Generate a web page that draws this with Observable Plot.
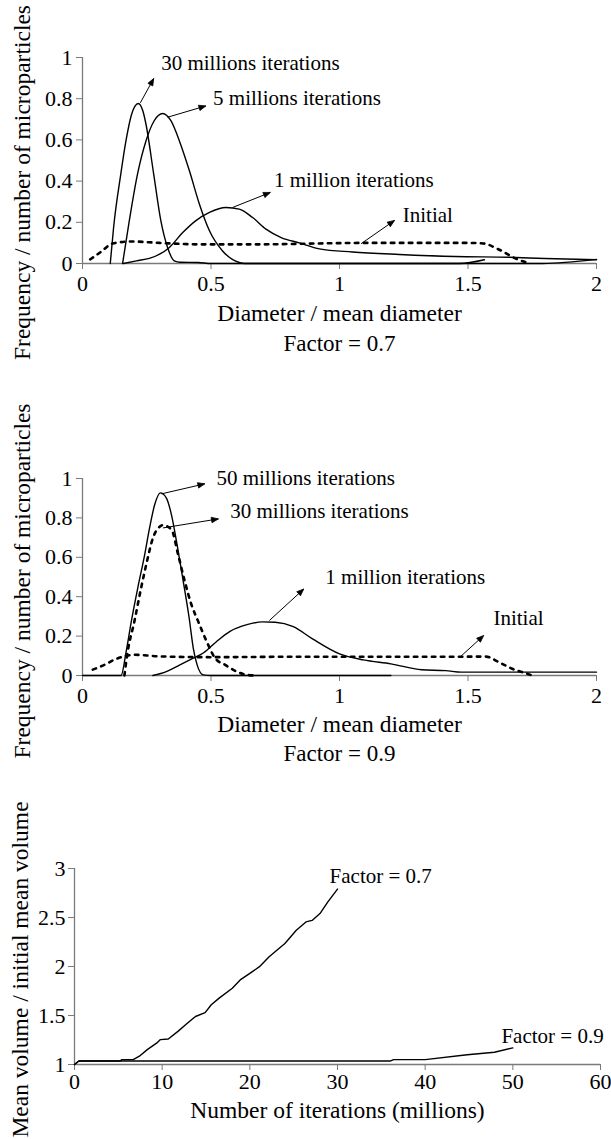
<!DOCTYPE html>
<html><head><meta charset="utf-8">
<script src="https://cdn.jsdelivr.net/npm/d3@7"></script>
<script src="https://cdn.jsdelivr.net/npm/@observablehq/plot@0.6"></script>
<style>
body{margin:0;background:#fff;}
#chart svg{display:block;overflow:visible;}
</style></head><body><div id="chart"></div><script>
// ---------- Panel 1 (Factor = 0.7): [diameter/mean, frequency] ----------
const p1Initial = [[0.03,0.02],[0.07,0.055],[0.117,0.097],[0.19,0.107],[0.3,0.1],[0.45,0.093],[0.7,0.093],[0.9,0.097],[1.1,0.1],[1.3,0.1],[1.5,0.1],[1.56,0.097],[1.62,0.068],[1.686,0.024],[1.74,0]];
const p1M1 = [[0.16,0],[0.21,0.013],[0.26,0.025],[0.3,0.045],[0.338,0.078],[0.39,0.15],[0.44,0.207],[0.494,0.248],[0.558,0.272],[0.61,0.264],[0.662,0.223],[0.714,0.167],[0.773,0.126],[0.844,0.1],[0.922,0.071],[1.05,0.056],[1.233,0.044],[1.45,0.034],[1.661,0.03],[1.8,0.024],[2.0,0.018]];
const p1M30 = [[0.108,0],[0.121,0.175],[0.149,0.434],[0.169,0.595],[0.19,0.72],[0.217,0.777],[0.235,0.74],[0.247,0.676],[0.277,0.434],[0.305,0.207],[0.331,0.078],[0.357,0.013],[0.38,0.006],[0.45,0.005],[0.5,0],[1.467,0],[1.564,0.018]];
const p1M5 = [[0.156,0],[0.182,0.207],[0.214,0.434],[0.247,0.595],[0.279,0.693],[0.312,0.728],[0.344,0.693],[0.377,0.595],[0.416,0.45],[0.455,0.288],[0.494,0.159],[0.545,0.061],[0.61,0.005],[0.63,0],[1.79,0],[2.0,0.02]];
const p1Arrows = [[0.225,0.78,0.277,0.898],[0.331,0.71,0.48,0.765],[0.584,0.272,0.731,0.345],[1.084,0.096,1.214,0.209]];
const p1Labels = [[0.306,0.97,"30 millions iterations"],[0.508,0.804,"5 millions iterations"],[0.745,0.404,"1 million iterations"],[1.246,0.233,"Initial"]];

// ---------- Panel 2 (Factor = 0.9) ----------
const p2Initial = [[0.04,0.03],[0.085,0.054],[0.124,0.08],[0.17,0.1],[0.2,0.105],[0.3,0.097],[0.5,0.093],[0.8,0.095],[1.1,0.095],[1.4,0.095],[1.57,0.096],[1.62,0.068],[1.672,0.034],[1.733,0.008],[1.75,0]];
const p2M1 = [[0.274,0],[0.326,0.02],[0.379,0.054],[0.431,0.088],[0.47,0.114],[0.522,0.173],[0.574,0.224],[0.64,0.258],[0.7,0.272],[0.75,0.27],[0.82,0.248],[0.895,0.186],[1.0,0.11],[1.093,0.079],[1.2,0.059],[1.32,0.029],[1.413,0.025],[1.474,0.017],[2.0,0.017]];
const p2M50 = [[0,0],[0.15,0],[0.17,0.122],[0.19,0.275],[0.215,0.444],[0.242,0.614],[0.261,0.749],[0.281,0.868],[0.303,0.927],[0.326,0.902],[0.346,0.817],[0.368,0.664],[0.392,0.478],[0.415,0.292],[0.431,0.139],[0.446,0.054],[0.47,0.003],[0.5,0],[1.2,0]];
const p2M30 = [[0.163,0],[0.176,0.122],[0.202,0.275],[0.228,0.444],[0.251,0.58],[0.274,0.698],[0.3,0.755],[0.313,0.763],[0.346,0.741],[0.372,0.614],[0.398,0.478],[0.424,0.359],[0.45,0.275],[0.483,0.173],[0.516,0.088],[0.555,0.054],[0.6,0.02],[0.64,0.003],[0.67,0]];
const p2Arrows = [[0.307,0.922,0.476,0.973],[0.313,0.749,0.529,0.795],[0.727,0.279,0.861,0.439],[1.466,0.09,1.561,0.203]];
const p2Labels = [[0.521,1.0,"50 millions iterations"],[0.575,0.833,"30 millions iterations"],[0.945,0.498,"1 million iterations"],[1.599,0.292,"Initial"]];

// ---------- Panel 3: mean volume vs iterations (millions) ----------
const p3F07 = [[0,1],[0.5,1.035],[5.2,1.035],[5.4,1.05],[6.7,1.05],[7.4,1.085],[8.3,1.152],[9.4,1.22],[9.8,1.254],[10.7,1.26],[11.8,1.338],[12.9,1.423],[13.8,1.49],[14.9,1.53],[15.6,1.61],[16.5,1.677],[18.0,1.778],[18.9,1.863],[20.0,1.93],[21.1,1.998],[22.2,2.1],[24.0,2.235],[25.3,2.37],[26.4,2.455],[27.1,2.47],[28.0,2.54],[28.9,2.66],[30.0,2.79]];
const p3F09 = [[0,1],[0.5,1.035],[36.0,1.035],[36.4,1.05],[40.0,1.05],[44.8,1.1],[47.9,1.125],[50.0,1.17]];
const p3Labels = [[29.1,2.92,"Factor = 0.7"],[48.7,1.29,"Factor = 0.9"]];

const distXTicks = [0,0.5,1,1.5,2];
const distYTicks = [0,0.2,0.4,0.6,0.8,1];
const volXTicks = [0,10,20,30,40,50,60];
const volYTicks = [1,1.5,2,2.5,3];

const FONT = "Liberation Serif, DejaVu Serif, Noto Serif, serif";
const AXIS = "#7a7a7a";

function filledArrow(color, context) {
  const doc = context.document;
  const ns = "http://www.w3.org/2000/svg";
  const m = doc.createElementNS(ns, "marker");
  m.setAttribute("viewBox", "-10 -5 10 10");
  m.setAttribute("markerWidth", 9);
  m.setAttribute("markerHeight", 7);
  m.setAttribute("markerUnits", "userSpaceOnUse");
  m.setAttribute("orient", "auto");
  m.setAttribute("refX", 0);
  m.setAttribute("refY", 0);
  const p = doc.createElementNS(ns, "path");
  p.setAttribute("d", "M-10,-4L0,0L-10,4Z");
  p.setAttribute("fill", color);
  m.appendChild(p);
  return m;
}

const solid = {stroke: "black", strokeWidth: 1.4};
const dashed = {stroke: "black", strokeWidth: 2.6, strokeDasharray: "3.5,5.5"};
const tf = {fontFamily: FONT, fill: "black"};

function distPanel(cfg) {
  return Plot.plot({
    width: 611, height: cfg.height,
    marginLeft: 82, marginRight: 15, marginTop: cfg.marginTop, marginBottom: cfg.marginBottom,
    style: {fontFamily: FONT, fontSize: "22px", color: "black", background: "white", overflow: "visible"},
    x: {domain: [0, 2]},
    y: {domain: [0, 1]},
    marks: [
      Plot.ruleY([0], {stroke: AXIS, strokeWidth: 1.3}),
      Plot.ruleX([0], {stroke: AXIS, strokeWidth: 1.3}),
      Plot.axisX({ticks: distXTicks, tickFormat: d => String(d), tickSize: 6, tickPadding: 6, stroke: AXIS, fontSize: 22, label: null, ...tf}),
      Plot.axisY({ticks: distYTicks, tickFormat: d => String(d), tickSize: 6, tickPadding: 4, stroke: AXIS, fontSize: 22, label: null, ...tf}),
      ...cfg.series.map(s => Plot.line(s.data, {x: d => d[0], y: d => d[1], curve: "monotone-x", ...(s.dashed ? dashed : solid)})),
      Plot.link(cfg.arrows, {x1: d => d[0], y1: d => d[1], x2: d => d[2], y2: d => d[3], stroke: "black", strokeWidth: 1, markerEnd: filledArrow}),
      Plot.text(cfg.labels, {x: d => d[0], y: d => d[1], text: d => d[2], textAnchor: "start", fontSize: 21, ...tf}),
      Plot.text(["Frequency / number of microparticles"], {frameAnchor: "left", textAnchor: "middle", lineAnchor: "middle", text: d => d, rotate: -90, dx: -60, dy: cfg.yLabelDy, fontSize: 23.5, ...tf}),
      Plot.text(["Diameter / mean diameter"], {frameAnchor: "bottom", text: d => d, dy: cfg.xLabelDy, fontSize: 23.5, ...tf}),
      Plot.text([cfg.caption], {frameAnchor: "bottom", text: d => d, dy: cfg.captionDy, fontSize: 23, ...tf})
    ]
  });
}

const panel1 = distPanel({
  height: 370, marginTop: 57, marginBottom: 107,
  series: [{data: p1Initial, dashed: true}, {data: p1M1}, {data: p1M5}, {data: p1M30}],
  arrows: p1Arrows, labels: p1Labels,
  yLabelDy: 22, xLabelDy: 57, captionDy: 87, caption: "Factor = 0.7"
});

const panel2 = distPanel({
  height: 410, marginTop: 108, marginBottom: 105,
  series: [{data: p2Initial, dashed: true}, {data: p2M1}, {data: p2M50}, {data: p2M30, dashed: true}],
  arrows: p2Arrows, labels: p2Labels,
  yLabelDy: 4, xLabelDy: 56, captionDy: 85, caption: "Factor = 0.9"
});

const panel3 = Plot.plot({
  width: 611, height: 359,
  marginLeft: 74, marginRight: 11, marginTop: 88, marginBottom: 75,
  style: {fontFamily: FONT, fontSize: "22px", color: "black", background: "white", overflow: "visible"},
  x: {domain: [0, 60]},
  y: {domain: [1, 3]},
  marks: [
    Plot.ruleY([1], {stroke: AXIS, strokeWidth: 1.3}),
    Plot.ruleX([0], {stroke: AXIS, strokeWidth: 1.3}),
    Plot.axisX({ticks: volXTicks, tickFormat: d => String(d), tickSize: 6, tickPadding: 3, stroke: AXIS, fontSize: 22, label: null, ...tf}),
    Plot.axisY({ticks: volYTicks, tickFormat: d => String(d), tickSize: 6, tickPadding: 3, stroke: AXIS, fontSize: 22, label: null, ...tf}),
    Plot.line(p3F07, {x: d => d[0], y: d => d[1], ...solid}),
    Plot.line(p3F09, {x: d => d[0], y: d => d[1], ...solid}),
    Plot.text(p3Labels, {x: d => d[0], y: d => d[1], text: d => d[2], textAnchor: "start", fontSize: 21, ...tf}),
    Plot.text(["Mean volume / initial mean volume"], {frameAnchor: "left", textAnchor: "middle", lineAnchor: "middle", text: d => d, rotate: -90, dx: -54, dy: 3, fontSize: 23.5, ...tf}),
    Plot.text(["Number of iterations (millions)"], {frameAnchor: "bottom", text: d => d, dy: 53, fontSize: 23.5, ...tf})
  ]
});

const root = document.getElementById("chart");
root.append(panel1, panel2, panel3);
</script></body></html>
